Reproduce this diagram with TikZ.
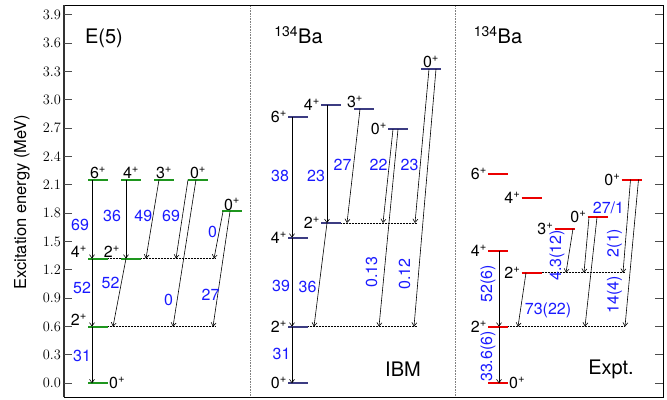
\documentclass[tikz,border=0pt]{standalone}
\usepackage{fontspec}
\setmainfont{TeX Gyre Heros}
\usetikzlibrary{arrows.meta}

\definecolor{levE}{RGB}{30,150,30}
\definecolor{levI}{RGB}{60,60,130}
\definecolor{levX}{RGB}{235,0,0}
\definecolor{bnum}{RGB}{25,25,255}
\newcommand{\jp}[1]{#1\textsuperscript{+}}

\begin{document}
\begin{tikzpicture}[x=1pt, y=94.5pt,
    lev/.style={minimum width=20pt, minimum height=0pt, inner sep=0pt, outer sep=0pt},
    levline/.style={draw=#1, line width=2pt},
    spin/.style={font=\fontsize{16}{18}\selectfont, inner sep=1pt},
    bval/.style={text=bnum, font=\fontsize{16}{18}\selectfont, inner sep=0pt},
    tr/.style={-{Straight Barb[length=3.5pt,width=5pt]}, line width=0.6pt},
    guide/.style={densely dotted, line width=0.5pt},
    ttl/.style={font=\fontsize{20}{24}\selectfont, anchor=base, inner sep=0pt}]
    \useasboundingbox (0,-0.1767) rectangle (667,4.056);

    % frame, ticks and panel separators
    \draw[gray, densely dotted, line width=0.6pt] (250,-0.15) -- (250,4.003);
    \draw[gray, densely dotted, line width=0.6pt] (455,-0.15) -- (455,4.003);
    \draw[line width=0.9pt] (64,-0.15) rectangle (663,4.003);
    \draw[line width=1.6pt, black!80] (64,-0.15) -- (64,4.003);
    \foreach \i in {0,...,13}{
      \pgfmathsetmacro\e{0.3*\i}
      \draw[line width=1pt, black!70] (64,\e) -- (72,\e);
      \draw[line width=1pt, black!70] (655,\e) -- (663,\e);
      \node[anchor=east, inner sep=0pt, font=\fontsize{15}{17}\selectfont] (tk\i) at (61,\e)
        {\pgfmathprintnumber[fixed,fixed zerofill,precision=1]{\e}};
    }
    \node[rotate=90, font=\fontsize{16.5}{18}\selectfont] (ylab) at (22,1.917) {Excitation energy (MeV)};

    % E(5)
    \draw[guide] (108,1.32) -- (215,1.32);
    \draw[guide] (108,0.6) -- (215,0.6);
    \node[lev, label={[spin]right:\jp{0}}] (g0) at (98,0) {};
    \node[lev, label={[spin, yshift=7pt]left:\jp{2}}] (g2) at (98,0.6) {};
    \node[lev, label={[spin, yshift=7pt]left:\jp{4}}] (g4) at (98,1.32) {};
    \node[lev, label={[spin, yshift=7pt]left:\jp{2}}] (g2b) at (131,1.32) {};
    \node[lev, label={[spin]above:\jp{6}}] (g6) at (98,2.154) {};
    \node[lev, label={[spin]above:\jp{4}}] (g4b) at (131,2.154) {};
    \node[lev, label={[spin]above:\jp{3}}] (g3) at (164,2.154) {};
    \node[lev, label={[spin]above:\jp{0}}] (g0b) at (198,2.154) {};
    \node[lev, label={[spin]above:\jp{0}}] (g0c) at (232,1.818) {};
    \foreach \n in {g0,g2,g4,g2b,g6,g4b,g3,g0b,g0c}
      \draw[levline=levE] (\n.west) -- (\n.east);

    \draw[tr] ([xshift=-6pt]g6.center) -- ([xshift=-6pt]g4.center);
    \draw[tr] ([xshift=-6pt]g4.center) -- ([xshift=-6pt]g2.center);
    \draw[tr] ([xshift=-6pt]g2.center) -- ([xshift=-6pt]g0.center);
    \draw[tr] ([xshift=-5pt]g4b.center) -- ([xshift=-5pt]g2b.center);
    \draw[tr] ([xshift=-5pt]g2b.center) -- ([xshift=15pt]g2.center);
    \draw[tr] ([xshift=-5pt]g3.center) -- ([xshift=15pt]g2b.center);
    \draw[tr] ([xshift=-10pt]g0b.center) -- ([xshift=45pt]g2b.center);
    \draw[tr] ([xshift=-2pt]g0b.center) -- ([xshift=75pt]g2.center);
    \draw[tr] ([xshift=-9pt]g0c.center) -- ([xshift=83pt]g2b.center);
    \draw[tr] ([xshift=-2pt]g0c.center) -- ([xshift=115pt]g2.center);

    \node[bval] (e1) at (80,1.675) {69};
    \node[bval] (e2) at (82,1.008) {52};
    \node[bval] (e3) at (82,0.289) {31};
    \node[bval] (e4) at (112,1.774) {36};
    \node[bval] (e5) at (110.5,1.058) {52};
    \node[bval] (e6) at (143.3,1.77) {49};
    \node[bval] (e7) at (171,1.77) {69};
    \node[bval] (e8) at (212.5,1.60) {0};
    \node[bval] (e9) at (168.5,0.885) {0};
    \node[bval] (e10) at (210.5,0.934) {27};
    \node[ttl] (tE) at (104,3.598) {E(5)};

    % IBM
    \draw[guide] (341,1.696) -- (417,1.696);
    \draw[guide] (308,0.6) -- (417,0.6);
    \node[lev, label={[spin]left:\jp{0}}] (i0) at (298,0) {};
    \node[lev, label={[spin]left:\jp{2}}] (i2) at (298,0.6) {};
    \node[lev, label={[spin]left:\jp{4}}] (i4) at (298,1.541) {};
    \node[lev, label={[spin]left:\jp{2}}] (i2b) at (331,1.696) {};
    \node[lev, label={[spin]left:\jp{6}}] (i6) at (298,2.815) {};
    \node[lev, label={[spin]left:\jp{4}}] (i4b) at (331,2.945) {};
    \node[lev, label={[spin, xshift=-9pt]above:\jp{3}}] (i3) at (364,2.903) {};
    \node[lev, label={[spin]left:\jp{0}}] (i0b) at (398,2.688) {};
    \node[lev, label={[spin]above:\jp{0}}] (i0c) at (431,3.326) {};
    \foreach \n in {i0,i2,i4,i2b,i6,i4b,i3,i0b,i0c}
      \draw[levline=levI] (\n.west) -- (\n.east);

    \draw[tr] ([xshift=-6pt]i6.center) -- ([xshift=-6pt]i4.center);
    \draw[tr] ([xshift=-6pt]i4.center) -- ([xshift=-6pt]i2.center);
    \draw[tr] ([xshift=-6pt]i2.center) -- ([xshift=-6pt]i0.center);
    \draw[tr] ([xshift=-4pt]i4b.center) -- ([xshift=-4pt]i2b.center);
    \draw[tr] ([xshift=-4pt]i2b.center) -- ([xshift=16pt]i2.center);
    \draw[tr] ([xshift=-4pt]i3.center) -- ([xshift=16pt]i2b.center);
    \draw[tr] ([xshift=-5pt]i0b.center) -- ([xshift=52pt]i2b.center);
    \draw[tr] (i0b.center) -- ([xshift=81pt]i2.center);
    \draw[tr] ([xshift=-2pt]i0c.center) -- ([xshift=84pt]i2b.center);
    \draw[tr] ([xshift=5pt]i0c.center) -- ([xshift=116pt]i2.center);

    \node[bval] (b1) at (280,2.194) {38};
    \node[bval] (b2) at (316,2.194) {23};
    \node[bval] (b3) at (342.5,2.315) {27};
    \node[bval] (b4) at (378.5,2.315) {22};
    \node[bval] (b5) at (409.5,2.315) {23};
    \node[bval] (b6) at (281,1.03) {39};
    \node[bval] (b7) at (307.5,1.02) {36};
    \node[bval] (b8) at (281.5,0.31) {31};
    \node[bval, rotate=90] (b9) at (371.5,1.178) {0.13};
    \node[bval, rotate=90] (b10) at (404.5,1.157) {0.12};
    \node[ttl] (tI) at (298.5,3.591) {\textsuperscript{134}Ba};
    \node[ttl] (tIBM) at (403,0.077) {IBM};

    % experiment
    \draw[guide] (541.5,1.17) -- (625,1.17);
    \draw[guide] (508,0.6) -- (625,0.6);
    \node[lev, label={[spin]right:\jp{0}}] (x0) at (498,0) {};
    \node[lev, label={[spin]left:\jp{2}}] (x2) at (498,0.6) {};
    \node[lev, label={[spin]left:\jp{4}}] (x4) at (498,1.40) {};
    \node[lev, label={[spin]left:\jp{2}}] (x2b) at (531.5,1.17) {};
    \node[lev, label={[spin]left:\jp{6}}] (x6) at (498,2.212) {};
    \node[lev, label={[spin]left:\jp{4}}] (x4b) at (531.5,1.964) {};
    \node[lev, label={[spin]left:\jp{3}}] (x3) at (564.5,1.636) {};
    \node[lev, label={[spin]left:\jp{0}}] (x0b) at (597.5,1.757) {};
    \node[lev, label={[spin]left:\jp{0}}] (x0c) at (631.5,2.155) {};
    \foreach \n in {x0,x2,x4,x2b,x6,x4b,x3,x0b,x0c}
      \draw[levline=levX] (\n.west) -- (\n.east);

    \draw[tr] ([xshift=1pt]x4.center) -- ([xshift=1pt]x2.center);
    \draw[tr] ([xshift=1pt]x2.center) -- ([xshift=1pt]x0.center);
    \draw[tr] ([xshift=-5.5pt]x2b.center) -- ([xshift=20pt]x2.center);
    \draw[tr] ([xshift=8.5pt]x3.center) -- ([xshift=34.5pt]x2b.center);
    \draw[tr] ([xshift=-8.5pt]x0b.center) -- ([xshift=52.5pt]x2b.center);
    \draw[tr] ([xshift=-0.5pt]x0b.center) -- ([xshift=87pt]x2.center);
    \draw[tr] ([xshift=-1pt]x0c.center) -- ([xshift=91.5pt]x2b.center);
    \draw[tr] ([xshift=7pt]x0c.center) -- ([xshift=127pt]x2.center);

    \node[bval, rotate=90] (n1) at (488,1.05) {52(6)};
    \node[bval, rotate=90] (n2) at (488,0.284) {33.6(6)};
    \node[bval] (n3) at (548,0.768) {73(22)};
    \node[bval, rotate=90] (n4) at (557,1.352) {4.3(12)};
    \node[bval] (n5) at (608.5,1.86) {27/1};
    \node[bval, rotate=90] (n6) at (614.5,1.485) {2(1)};
    \node[bval, rotate=90] (n7) at (614.5,0.934) {14(4)};
    \node[ttl] (tX) at (498,3.591) {\textsuperscript{134}Ba};
    \node[ttl] (tExp) at (611,0.088) {Expt.};
\end{tikzpicture}
\end{document}
